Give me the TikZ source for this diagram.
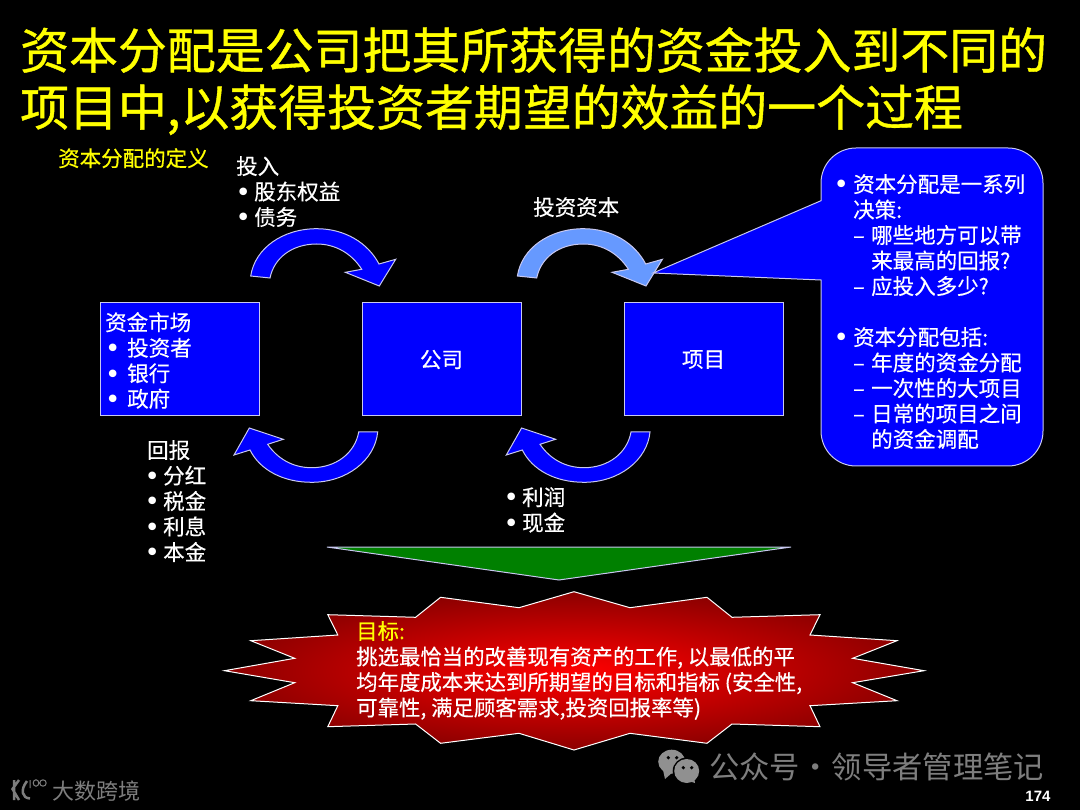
\documentclass[tikz,border=0pt]{standalone}
\usepackage{fontspec}
\setmainfont[FakeBold=0.4,AutoFakeBold=0]{Noto Sans CJK SC}
\newfontfamily\titlefont[AutoFakeBold=0.8]{Noto Sans CJK SC}
\newfontfamily\wmfont{Noto Sans CJK SC}
\newfontfamily\numfont{Liberation Sans}
\newfontfamily\bulfont{DejaVu Sans}
\newcommand{\bbul}{\raisebox{-1.6pt}{\bulfont\fontsize{26}{26}\selectfont •}}
\newcommand{\bl}[2]{\makebox[#2][l]{\kern\dimexpr#1-1.4pt\relax\bbul}}
\newcommand{\cbul}{\llap{\bbul\kern4.3pt}}
\newcommand{\dsh}{\makebox[18pt][l]{–}}
\newcommand{\ind}{\makebox[18pt][l]{}}
\newcommand{\arrowtop}[1]{%
  \fill[#1,draw=edgec,line width=1pt,line join=miter]
    (250.7,276) .. controls (255,248) and (283,228.7) .. (316.7,228.7)
    .. controls (345,228.7) and (368,243) .. (379,264)
    -- (395.7,259.3) -- (379.3,286) -- (345.3,272.3) -- (361.7,269.3)
    .. controls (352,254) and (336,244) .. (316.7,244)
    .. controls (292,244) and (274,258) .. (270,278) -- cycle;}
\newcommand{\arrowbot}[1]{%
  \fill[#1,draw=edgec,line width=1pt,line join=miter]
    (377.7,432) .. controls (375,460) and (347,482.3) .. (311.7,482.3)
    .. controls (283,482.3) and (260,470) .. (250,450)
    -- (234,455) -- (249.3,428) -- (283.3,439.3) -- (267.7,444.3)
    .. controls (277,458) and (292,467.7) .. (311.7,467.7)
    .. controls (336,467.7) and (355,453) .. (358.7,432) -- cycle;}
\definecolor{edgec}{HTML}{C8C8F0}
\definecolor{boxblue}{HTML}{0000FF}
\definecolor{lightarrow}{HTML}{6699FF}
\definecolor{titley}{HTML}{FFFF00}
\definecolor{wmgrey}{HTML}{7E7E7E}
\definecolor{iconc}{HTML}{909090}
\tikzset{
  x=1pt,y=-1pt,
  bluebox/.style={draw=edgec,fill=boxblue,line width=1pt,minimum width=159pt,minimum height=113pt,inner sep=0pt,text=white,font=\fontsize{21.5}{25.5}\selectfont},
  label/.style={text=white,anchor=north west,inner sep=0pt,align=left,font=\fontsize{21.5}{25.5}\selectfont},
  titletext/.style={text=titley,anchor=north west,inner sep=0pt,align=left,font=\titlefont\fontsize{48.9}{57}\selectfont\bfseries},
}
\begin{document}
\begin{tikzpicture}
\useasboundingbox (0,0) rectangle (1080,810);
\fill[black] (0,0) rectangle (1080,810);
% title
\node[titletext] (title) at (20,27) {资本分配是公司把其所获得的资金投入到不同的\\项目中,以获得投资者期望的效益的一个过程};
\node[label,text=titley] (def) at (58,148) {资本分配的定义};
% arrows
\arrowtop{boxblue}
\begin{scope}[xshift=266.7pt]\arrowtop{lightarrow}\end{scope}
\arrowbot{boxblue}
\begin{scope}[xshift=272.3pt]\arrowbot{boxblue}\end{scope}
% callout
\fill[boxblue,draw=edgec,line width=1pt]
  (821,200.7) -- (821,183) arc[start angle=180,end angle=90,x radius=35,y radius=-35] -- (1008,148)
  arc[start angle=90,end angle=0,x radius=35,y radius=-35] -- (1043,431)
  arc[start angle=0,end angle=-90,x radius=35,y radius=-35] -- (856,466)
  arc[start angle=-90,end angle=-180,x radius=35,y radius=-35] -- (821,280) -- (653,273) -- cycle;
\node[label] (calltext) at (853,174) {\cbul 资本分配是一系列\\决策:\\\dsh 哪些地方可以带\\\ind 来最高的回报?\\\dsh 应投入多少?\\[25.5pt]\cbul 资本分配包括:\\\dsh 年度的资金分配\\\dsh 一次性的大项目\\\dsh 日常的项目之间\\\ind 的资金调配};
% boxes
\node[bluebox] (market) at (180,359.5) {};
\node[bluebox] (company) at (441.5,359.5) {\raisebox{-1pt}{公司}};
\node[bluebox] (project) at (703.5,359.5) {\raisebox{-1pt}{项目}};
\node[label] (markettext) at (105,312) {资金市场\\\bl{1.2pt}{22pt}投资者\\\bl{1.2pt}{22pt}银行\\\bl{1.2pt}{22pt}政府};
% labels
\node[label] (inp) at (236,156) {投入\\\bl{0.7pt}{18pt}股东权益\\\bl{0.7pt}{18pt}债务};
\node[label] (cap) at (533,197) {投资资本};
\node[label] (ret) at (147,440) {回报\\\bl{-1.3pt}{16pt}分红\\\bl{-1.3pt}{16pt}税金\\\bl{-1.3pt}{16pt}利息\\\bl{-1.3pt}{16pt}本金};
\node[label] (prof) at (506,487) {\bl{-1.3pt}{16pt}利润\\\bl{-1.3pt}{16pt}现金};
% green triangle
\fill[green!50!black,draw=edgec,line width=1pt] (327,547) -- (791,547) -- (559,580) -- cycle;
% burst
\path[shade,inner color=red,outer color=red!55!black,draw=white,line width=1pt,line join=miter]
 (574,591.7)--(630,607.7)--(707,597.3)--(732,617.3)--(820,614.7)--(810,635)--(897,640.7)--(852.7,658.3)--(924,670.7)--(852.7,682.7)--(897,700.7)--(810,705.7)--(820,726.7)--(732,724)--(707,743.3)--(630,733.3)--(574,750)--(519,733.3)--(440.6,743.3)--(415.6,724)--(327.8,726.7)--(337.8,705.7)--(250.8,700.7)--(294.7,682.7)--(224.5,670.7)--(294.7,658.3)--(250.8,640.7)--(337.8,635)--(327.8,614.7)--(415.6,617.3)--(440.6,597.3)--(519,607.7)--cycle;
\node[label,font=\fontsize{21.4}{25.5}\selectfont] (goal) at (356,621) {\textcolor{titley}{目标:}\\挑选最恰当的改善现有资产的工作, 以最低的平\\均年度成本来达到所期望的目标和指标 (安全性,\\可靠性, 满足顾客需求,投资回报率等)};
% watermark
\fill[iconc] (671.7,761.7) ellipse[x radius=13.5,y radius=12];
\fill[iconc] (663,770)--(665,779)--(673,772)--cycle;
\fill[black] (686.7,771) ellipse[x radius=14,y radius=13.5];
\fill[iconc] (686.7,771) ellipse[x radius=12.5,y radius=12];
\fill[iconc] (689,781)--(695,783)--(694,777)--cycle;
\foreach \p in {(668.3,757.7),(676.7,757.7),(683.3,767.7),(691.7,767.7)} \fill[black] \p circle[radius=1.8];
\node[anchor=west,inner sep=0pt,text=wmgrey,font=\wmfont\fontsize{30.3}{30}\selectfont] (wm) at (709,767) {公众号\kern-6pt{} · \kern-6pt{}领导者管理笔记};
\node[anchor=west,inner sep=0pt,text=wmgrey,font=\wmfont\fontsize{22}{22}\selectfont] (wm2) at (52,791) {大数跨境};
\draw[wmgrey,line width=1pt] (30,780)--(30,788) (36,783) ellipse[x radius=2.8,y radius=3.2] (43,783) ellipse[x radius=3.2,y radius=3.2];
\draw[wmgrey,line width=2.5pt] (14,780)--(14,800) (19,780)--(12.5,789)--(19,800) (27,781)..controls (20,790) and (22,798) ..(30,798.5);
\node[anchor=center,inner sep=0pt,text=white,font=\numfont\bfseries\fontsize{15}{15}\selectfont] (num) at (1038,796) {174};
\end{tikzpicture}
\end{document}
